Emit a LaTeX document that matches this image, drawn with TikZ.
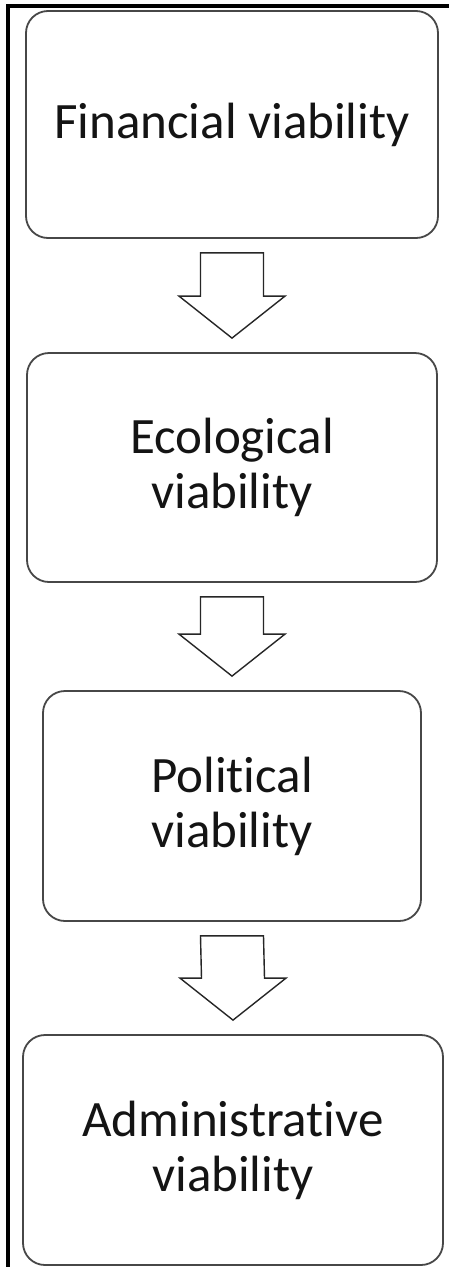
\documentclass[tikz,border=0pt]{standalone}
\usepackage{fontspec}
\setmainfont{Carlito}[RawFeature={-liga;-dlig;-clig}]
\usetikzlibrary{calc}
\tikzset{
  stagebox/.style={draw=black!72, line width=1.8pt, rounded corners=22pt, fill=white,
    align=center, inner sep=0pt, font=\fontsize{51}{55}\selectfont, text=black!92},
  fatline/.style={draw=black!85, line width=1.4pt, line join=miter, fill=white},
  frameline/.style={line width=4pt, black}
}
\newcommand\fatarrow[2]{%
  \draw[fatline] ($(#1.south)+(-31.5,14)$) -- ($(#1.south)+(31.5,14)$)
    -- ($(#2.north)+(31.5,-56)$) -- ($(#2.north)+(53,-56)$)
    -- ($(#2.north)+(0,-14)$) -- ($(#2.north)+(-53,-56)$)
    -- ($(#2.north)+(-31.5,-56)$) -- cycle;}
\begin{document}
\begin{tikzpicture}[x=1pt,y=-1pt]
  \useasboundingbox (0,0) rectangle (449,1267);
  \fill[white] (0,0) rectangle (449,1267);
  \coordinate (frTR) at (449,6);
  \coordinate (frTL) at (8,6);
  \coordinate (frBL) at (8,1267);
  \draw[frameline] (frTR) -- (frTL) -- (frBL);
  \node[stagebox, minimum width=412pt, minimum height=227pt] (fin) at (232,124.5) {Financial viability};
  \node[stagebox, minimum width=410pt, minimum height=229pt] (eco) at (232,467.5) {Ecological\\viability};
  \node[stagebox, minimum width=378pt, minimum height=230pt] (pol) at (232,806) {Political\\viability};
  \node[stagebox, minimum width=420pt, minimum height=230pt] (adm) at (233,1150) {Administrative\\viability};
  \fatarrow{fin}{eco}
  \fatarrow{eco}{pol}
  \fatarrow{pol}{adm}
\end{tikzpicture}
\end{document}
